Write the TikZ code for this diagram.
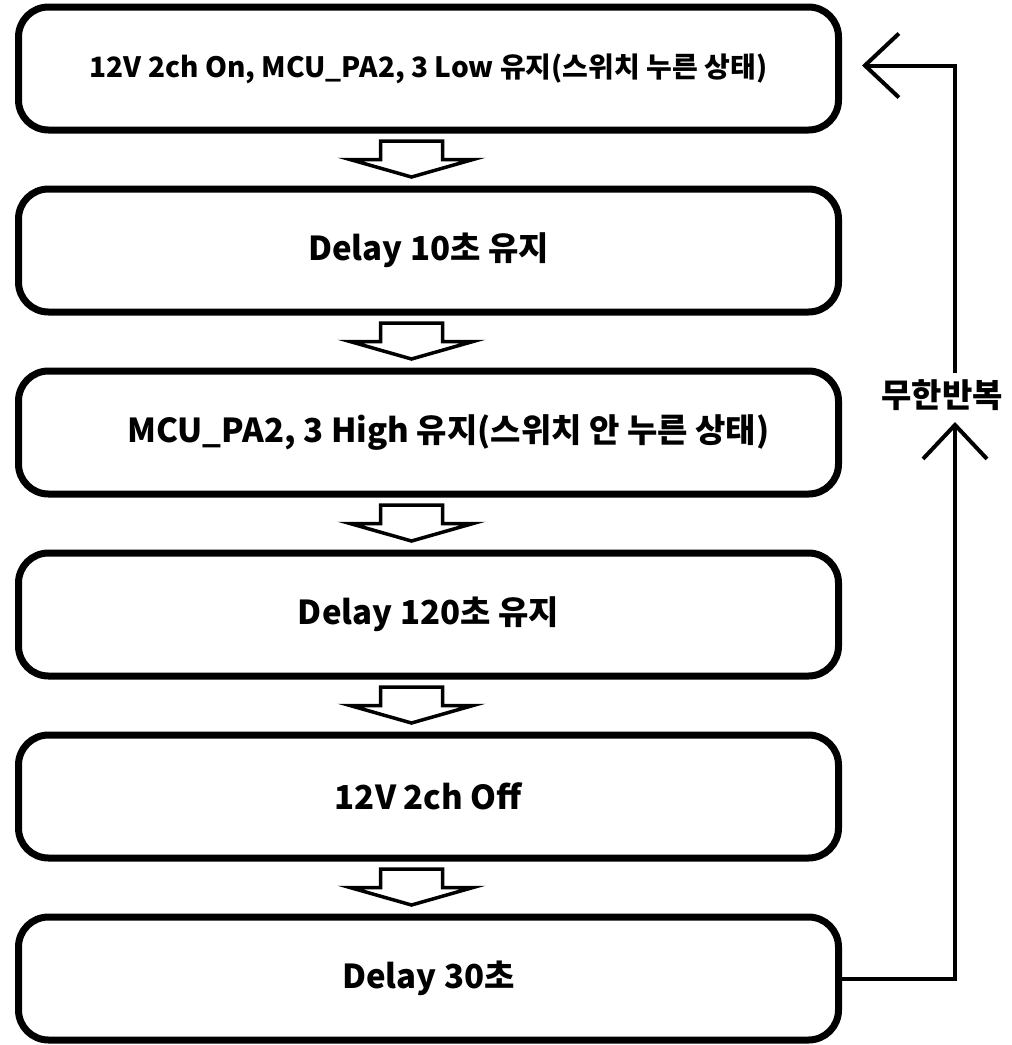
\documentclass[tikz,border=0pt]{standalone}
\usepackage{fontspec}
\newfontfamily\kofont{Noto Sans CJK KR}
\usetikzlibrary{arrows.meta, positioning, calc}
\tikzset{
  stepBox/.style={
    rounded corners=30pt,
    draw=black,
    line width=7pt,
    minimum width=820pt,
    minimum height=123pt,
    align=center,
    fill=white,
    font=\kofont\bfseries\fontsize{33}{37}\selectfont
  },
  firstBox/.style={stepBox, font=\kofont\bfseries\fontsize{28}{32}\selectfont},
  blockArrow/.style={draw=black, line width=3.5pt, fill=white, line join=miter},
  loopFlow/.style={line width=4pt, -{Straight Barb[length=34pt,width=64pt,line width=4pt]}},
  loopLabel/.style={font=\kofont\bfseries\fontsize{33}{37}\selectfont, inner sep=0pt}
}
\begin{document}
\begin{tikzpicture}[x=1pt, y=1pt, node distance=52pt]
  \useasboundingbox (0,0) rectangle (1012,-1045);

  \node[firstBox] (s1) at (428.5,-68.5) {12V 2ch On, MCU\_PA2, 3 Low 유지(스위치 누른 상태)};
  \node[stepBox, below=of s1] (s2) {Delay 10초 유지};
  \node[stepBox, below=of s2] (s3) {\hspace*{40pt}MCU\_PA2, 3 High 유지(스위치 안 누른 상태)};
  \node[stepBox, below=of s3] (s4) {Delay 120초 유지};
  \node[stepBox, below=of s4] (s5) {12V 2ch Off};
  \node[stepBox, below=of s5] (s6) {Delay 30초};

  % hollow block arrows between the steps
  \foreach \a/\b in {s1/s2, s2/s3, s3/s4, s4/s5, s5/s6} {
    \coordinate (\a mid) at ($(\a.south)!0.5!(\b.north)+(-17,0)$);
    \draw[blockArrow] ($(\a mid)+(-31,18.5)$) -- ($(\a mid)+(31,18.5)$) -- ($(\a mid)+(31,0)$)
      -- ($(\a mid)+(61.5,0)$) -- ($(\a mid)+(0,-17.5)$) -- ($(\a mid)+(-61.5,0)$)
      -- ($(\a mid)+(-31,0)$) -- cycle;
  }

  % endless loop back to the first step
  \node[loopLabel] (loop) at (942,-395) {무한반복};
  \coordinate (upTip) at (955,-422);
  \coordinate (loopTop) at (955,-373);
  \draw[loopFlow] (s6.east) -| (upTip);
  \draw[loopFlow] (loopTop) |- ([xshift=20pt,yshift=3pt]s1.east);
\end{tikzpicture}
\end{document}
